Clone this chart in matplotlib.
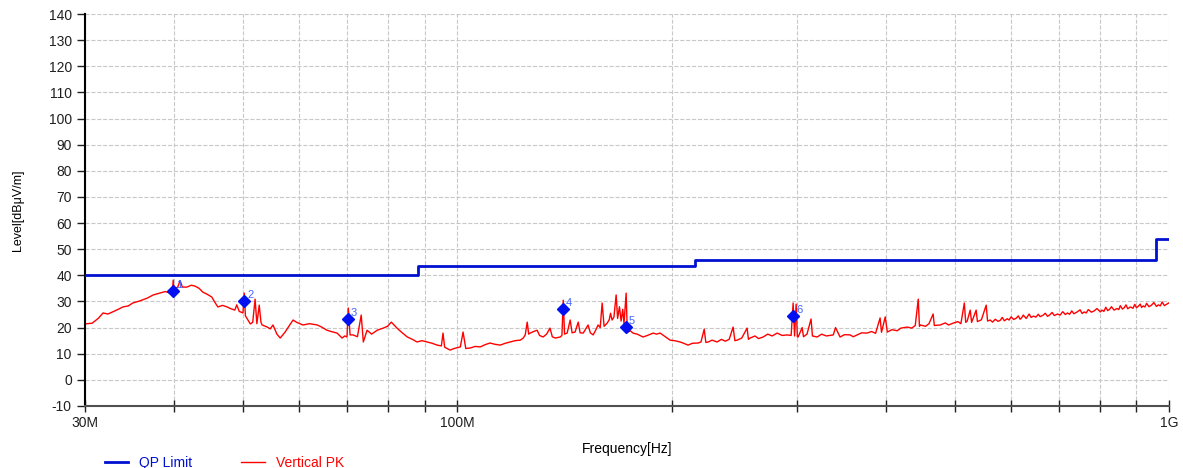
import matplotlib
matplotlib.use("Agg")
import matplotlib.pyplot as plt
from matplotlib.ticker import FixedLocator, NullFormatter

plt.rcParams['font.family'] = ['Liberation Sans', 'DejaVu Sans']
plt.rcParams['axes.unicode_minus'] = False

# QP limit (step function), MHz / dBuV/m
limit_freq = [30, 88, 216, 960, 1000]
limit_level = [40, 43.5, 46, 54, 54]

# Vertical PK trace (MHz, dBuV/m), 30M - 556M
pk_freq_low = [
    30.0, 30.7, 31.3, 31.8, 32.3, 32.8, 33.4, 33.9, 34.5, 35.0, 35.8, 36.7, 37.4, 38.2, 38.9, 39.5,
    39.8, 39.9, 40.0, 40.5, 40.8, 41.1, 41.7, 42.3, 42.8, 43.4, 43.9, 44.5, 45.2, 45.7, 46.1, 46.8,
    47.5, 48.1, 48.7, 49.0, 49.4, 50.0, 50.2, 50.4, 51.2, 51.6, 52.0, 52.3, 52.7, 53.0, 53.2, 54.1,
    54.6, 55.1, 55.8, 56.4, 57.3, 58.0, 58.8, 59.5, 60.7, 62.0, 63.6, 64.5, 65.6, 66.5, 67.8, 68.9,
    69.5, 70.0, 70.3, 70.7, 71.4, 72.4, 73.3, 73.8, 74.7, 75.8, 77.2, 78.7, 79.8, 80.8, 81.5, 82.3,
    83.7, 85.1, 86.5, 87.8, 89.2, 90.7, 92.2, 93.7, 95.0, 95.5, 96.0, 97.7, 99.0, 101.0, 101.9, 102.8,
    104.3, 106.0, 107.7, 109.5, 111.2, 113.0, 114.9, 116.8, 118.7, 120.6, 122.6, 123.8, 124.6, 125.4,
    126.0, 126.6, 128.0, 129.5, 130.5, 132.0, 133.5, 135.0, 136.0, 137.3, 139.5, 140.3, 140.9, 141.5,
    142.7, 144.1, 145.0, 146.4, 147.9, 148.8, 150.3, 152.7, 153.8, 155.2, 156.5, 157.7, 158.8, 159.8,
    160.8, 162.4, 163.5, 164.2, 165.0, 166.0, 167.2, 168.0, 169.0, 169.9, 170.8, 171.5, 172.7, 173.3,
    173.8, 175.0, 176.6, 179.0, 182.4, 185.0, 188.5, 190.5, 192.8, 196.0, 199.1, 202.0, 205.6, 208.0,
    211.0, 214.0, 218.0, 220.0, 222.3, 223.5, 225.2, 228.0, 231.8, 235.0, 238.0, 241.0, 244.1, 245.5,
    247.3, 251.0, 255.4, 256.5, 257.9, 262.0, 265.0, 269.0, 273.0, 277.0, 281.5, 286.0, 290.8, 294.5,
    296.4, 297.8, 299.3, 300.5, 301.2, 305.2, 306.5, 310.0, 314.1, 315.5, 320.4, 325.0, 330.0, 337.5,
    340.0, 345.0, 350.0, 356.4, 360.0, 364.5, 370.0, 376.5, 382.0, 387.0, 392.7, 394.5, 399.3, 402.0,
    408.0, 415.0, 420.0, 428.7, 435.0, 440.0, 444.3, 446.0, 447.3, 455.0, 460.0, 466.2, 468.0, 477.0,
    485.0, 490.0, 497.4, 505.0, 510.0, 515.7, 518.0, 520.5, 525.6, 528.0, 535.8, 538.0, 545.0, 553.5,
    556.0,
]
pk_level_low = [
    21.4, 21.7, 23.5, 25.6, 25.2, 26.0, 27.0, 27.9, 28.3, 29.4, 30.2, 31.3, 32.5, 33.2, 33.8, 33.2,
    34.0, 38.2, 34.5, 35.6, 38.0, 35.5, 35.5, 36.2, 35.9, 35.0, 33.6, 32.8, 31.7, 29.5, 27.9, 28.5,
    27.9, 27.2, 26.7, 28.7, 26.2, 25.6, 33.2, 24.5, 21.4, 22.0, 30.9, 21.5, 28.6, 22.0, 21.0, 20.2,
    19.5, 21.0, 17.5, 16.0, 18.3, 20.5, 22.9, 22.0, 21.0, 21.5, 21.0, 20.2, 19.0, 18.5, 17.9, 16.0,
    16.8, 16.4, 27.5, 17.2, 17.2, 16.5, 24.8, 14.5, 19.0, 17.5, 19.0, 19.8, 20.5, 22.1, 21.0, 19.8,
    18.0, 16.4, 15.5, 14.5, 15.0, 14.5, 14.0, 13.3, 13.0, 17.9, 12.5, 11.4, 12.0, 12.6, 18.3, 12.0,
    12.2, 12.8, 12.6, 13.5, 14.1, 13.6, 13.3, 14.0, 14.5, 15.0, 15.2, 16.0, 17.2, 22.1,
    17.5, 17.9, 18.5, 19.0, 17.0, 16.4, 17.5, 19.8, 16.5, 16.0, 16.4, 17.0, 30.5, 17.5,
    17.9, 22.9, 18.0, 18.3, 22.1, 18.0, 17.9, 21.0, 18.0, 17.2, 19.0, 21.0, 20.0, 29.4,
    20.5, 21.7, 23.0, 25.5, 22.9, 24.0, 32.5, 23.5, 28.0, 22.5, 27.0, 21.5, 33.2, 19.5,
    18.3, 18.8, 17.9, 17.5, 16.4, 17.0, 17.9, 17.5, 17.9, 16.5, 15.2, 15.0, 14.5, 14.0,
    13.3, 14.0, 14.1, 14.5, 19.4, 14.3, 14.5, 15.2, 14.5, 15.5, 14.8, 15.5, 20.2, 15.0,
    15.2, 16.0, 19.8, 15.5, 16.0, 16.8, 15.8, 16.4, 17.5, 16.8, 17.9, 17.0, 17.2, 17.0,
    29.4, 16.8, 29.0, 16.5, 16.4, 20.0, 16.5, 17.5, 23.3, 16.8, 16.4, 17.5, 16.8, 17.2,
    20.0, 16.4, 17.3, 17.2, 16.5, 17.2, 18.0, 17.9, 18.5, 17.8, 23.7, 18.2, 24.1, 18.3,
    19.2, 18.8, 19.8, 20.2, 19.8, 20.8, 30.9, 20.5, 21.0, 20.5, 21.5, 25.2, 20.8, 21.0,
    21.8, 21.0, 21.7, 22.3, 21.5, 29.4, 22.0, 22.5, 26.7, 22.0, 26.7, 22.3, 23.0, 28.6,
    22.5,
]

# Vertical PK trace, 560M - 1G (dense noisy band)
pk_freq_high = [
    560.7, 565, 570, 575, 579.3, 583, 587, 592.5, 596, 600, 605, 610, 614, 617.7, 621, 624,
    630, 636, 640, 645, 650, 655, 659, 665, 670, 675, 680, 685, 690, 697, 703, 709,
    715, 720, 725, 730, 735, 742, 750, 755, 760, 765, 770, 778, 785, 792, 800.7, 805,
    810, 815, 820, 825, 830, 837, 845, 850, 854, 860, 865, 870, 875, 882, 890, 895,
    900, 905, 911, 915, 920, 925, 930, 937, 945, 952, 960, 966, 972, 978, 985, 992,
    1000,
]
pk_level_high = [
    22.9, 22.1, 23.2, 22.4, 22.8, 23.9, 22.6, 23.4, 22.9, 24.1, 23.1, 23.6, 24.5, 23.2, 23.8, 24.8,
    23.5, 25.2, 23.9, 24.4, 24.0, 25.1, 24.2, 24.7, 25.5, 24.3, 24.9, 25.8, 24.6, 25.2, 24.8, 26.1,
    25.0, 25.6, 25.1, 26.4, 25.3, 25.9, 26.8, 25.4, 26.0, 25.6, 26.9, 25.9, 26.4, 27.3, 26.0, 26.7,
    26.2, 27.8, 26.5, 27.0, 28.0, 26.7, 27.3, 26.9, 28.4, 27.1, 27.6, 28.7, 27.2, 27.9, 27.4, 28.9,
    27.6, 28.1, 29.0, 27.7, 28.3, 27.9, 29.3, 28.0, 28.6, 29.6, 28.1, 28.7, 28.3, 29.8, 28.4, 28.9,
    29.5,
]

# final measurement markers
mk_freq = [39.9, 50.2, 70.2, 141.0, 172.7, 296.4]
mk_level = [34.0, 30.2, 23.3, 27.1, 20.2, 24.4]
mk_labels = ['1', '2', '3', '4', '5', '6']

pk_freq = pk_freq_low + pk_freq_high
pk_level = pk_level_low + pk_level_high

fig = plt.figure(figsize=(11.83, 4.68), dpi=100)
ax = fig.add_axes([0.0719, 0.1325, 0.9163, 0.8375])

ax.plot([f * 1e6 for f in limit_freq], limit_level, color='#0010d0', lw=2,
        drawstyle='steps-post', label='QP Limit', zorder=3)
ax.plot([f * 1e6 for f in pk_freq], pk_level, color='#ff0000', lw=1.0,
        label='Vertical PK', zorder=2)
ax.plot([f * 1e6 for f in mk_freq], mk_level, 'D', color='#0010f0', ms=6,
        linestyle='none', zorder=4)
for f, l, t in zip(mk_freq, mk_level, mk_labels):
    ax.annotate(t, (f * 1e6, l), xytext=(2, 2), textcoords='offset points',
                color='#4466ff', fontsize=8, zorder=5)

ax.set_xscale('log')
ax.set_xlim(30e6, 1e9)
ax.set_ylim(-10, 140)
ax.set_yticks(range(-10, 141, 10))

ax.xaxis.set_major_locator(FixedLocator([30e6, 100e6, 1e9]))
ax.set_xticklabels(['30M', '100M', '1G'])
minors = [40e6, 50e6, 60e6, 70e6, 80e6, 90e6] + [i * 100e6 for i in range(2, 10)]
ax.xaxis.set_minor_locator(FixedLocator(minors))
ax.xaxis.set_minor_formatter(NullFormatter())

ax.grid(True, which='both', color='#c8c8c8', linestyle='--', linewidth=0.8)
ax.set_axisbelow(True)
for s in ['top', 'right']:
    ax.spines[s].set_visible(False)
ax.spines['left'].set_linewidth(1.5)
ax.spines['bottom'].set_linewidth(1.5)
ax.spines['bottom'].set_color('#505050')
ax.tick_params(axis='x', which='both', direction='inout', length=8, width=1, labelsize=10,
               colors='#202020')
ax.tick_params(axis='y', direction='out', length=6, width=1, labelsize=10, colors='#202020')

ax.set_xlabel('Frequency[Hz]', fontsize=10, labelpad=8)
ax.set_ylabel('Level[dBμV/m]', fontsize=9, labelpad=18)

fig.legend(loc='lower left', bbox_to_anchor=(0.078, -0.03), ncol=2, frameon=False,
           labelcolor='linecolor', handlelength=1.7, columnspacing=3.5, fontsize=10)

fig.savefig('out.png', dpi=100)
